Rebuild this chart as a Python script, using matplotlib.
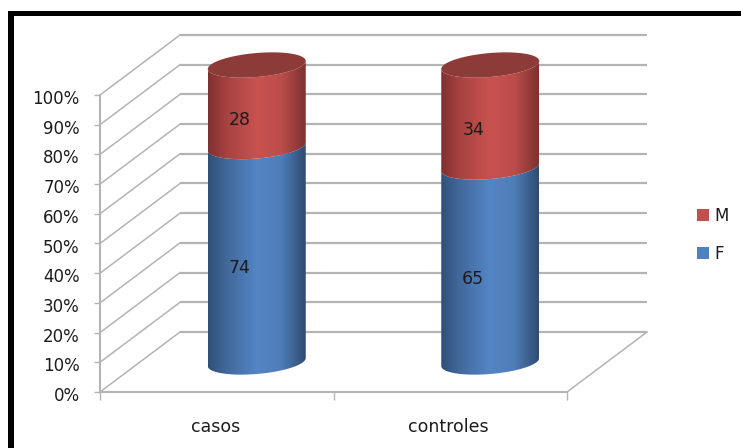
import numpy as np
import matplotlib
matplotlib.use("Agg")
import matplotlib.pyplot as plt
from matplotlib.colors import LinearSegmentedColormap
from matplotlib.patches import Patch, Polygon, Rectangle
from matplotlib.transforms import ScaledTranslation

categories = ["casos", "controles"]
series_f = [74, 65]
series_m = [28, 34]
y_ticks = [0, 10, 20, 30, 40, 50, 60, 70, 80, 90, 100]
y_tick_labels = ["0%", "10%", "20%", "30%", "40%", "50%", "60%", "70%", "80%", "90%", "100%"]

W, H = 741, 448
FONT = "DejaVu Sans"
FS = 12
TXT = "#1c1c1c"
GRID = "#b4b4b4"

fig = plt.figure(figsize=(W / 100, H / 100), dpi=100, facecolor="white")
# frame
fig.add_artist(Rectangle((8 / W, 1 - 16 / H), 1, 5 / H, transform=fig.transFigure, color="black", lw=0))
fig.add_artist(Rectangle((8 / W, 0), 6 / W, 1 - 11 / H, transform=fig.transFigure, color="black", lw=0))

L, R, T, B = 100, 567, 95, 392
ax = fig.add_axes([L / W, 1 - B / H, (R - L) / W, (B - T) / H])
ax.patch.set_visible(False)
ux = (R - L) / 2      # px per x unit
uy = (B - T) / 100    # px per percent
DX, DY = 80 / ux, 60 / uy  # depth offset


def px(dx, dy):
    return dx / ux, -dy / uy


# walls
for t in y_ticks:
    ax.plot([DX, 2 + DX], [t + DY, t + DY], color=GRID, lw=1.6, clip_on=False, zorder=1, solid_capstyle="butt")
    ax.plot([0, DX], [t, t + DY], color=GRID, lw=1.1, clip_on=False, zorder=1)
ax.plot([2, 2 + DX], [0, DY], color=GRID, lw=1.1, clip_on=False, zorder=1)

# axes
ax.set_xlim(0, 2)
ax.set_ylim(0, 100)
for s in ("top", "right"):
    ax.spines[s].set_visible(False)
for s in ("left", "bottom"):
    ax.spines[s].set_color(GRID)
    ax.spines[s].set_linewidth(1.5)
ax.set_yticks(y_ticks)
ax.set_yticklabels(y_tick_labels, fontsize=FS, family=FONT, color=TXT)
ax.set_xticks([0, 1, 2])
ax.set_xticklabels([])
ax.set_xticks([0.5, 1.5], minor=True)
ax.set_xticklabels(categories, minor=True, fontsize=FS + 0.5, family=FONT, color=TXT)
ax.tick_params(axis="y", length=4.5, width=1, color=GRID, pad=10)
ax.tick_params(axis="x", which="major", length=6, width=1, color=GRID)
ax.tick_params(axis="x", which="minor", length=0, pad=19)
shift_y = ScaledTranslation(0, -2 / 100, fig.dpi_scale_trans)
for lab in ax.get_yticklabels():
    lab.set_transform(lab.get_transform() + shift_y)
shift_x = ScaledTranslation(-1.5 / 100, 0, fig.dpi_scale_trans)
for lab in ax.get_xticklabels(minor=True):
    lab.set_transform(lab.get_transform() + shift_x)

# cylinders
RX = 49 / ux
BY = 12 / uy
SHEAR = 4 / uy
cm_f = LinearSegmentedColormap.from_list("f", [(0, "#2f5078"), (0.18, "#41689a"), (0.5, "#5485c5"),
                                               (0.75, "#4f7db8"), (1, "#2e4c72")])
cm_m = LinearSegmentedColormap.from_list("m", [(0, "#7f3130"), (0.18, "#a54240"), (0.5, "#c9524f"),
                                               (0.75, "#bb4d4a"), (1, "#7d3231")])
TOP_COLOR = "#8c3b39"


def arc(cx, cy, a, b):
    t = np.linspace(a, b, 80)
    return np.column_stack([cx + RX * np.cos(t), cy - BY * np.sin(t) + SHEAR * np.cos(t)])


def body(cx, y0, y1, cmap):
    low = arc(cx, y0, np.pi, 0)
    up = arc(cx, y1, 0, np.pi)
    poly = Polygon(np.vstack([low, up]), closed=True, transform=ax.transData, fc="none", ec="none")
    ax.add_patch(poly)
    im = ax.imshow(np.linspace(0, 1, 128)[None, :], cmap=cmap, aspect="auto", vmin=0, vmax=1,
                   extent=[cx - RX, cx + RX, -30, 130], zorder=3, interpolation="bilinear")
    im.set_clip_box(fig.bbox)
    im.set_clip_path(poly)


base = DY / 2
for i, cat in enumerate(categories):
    total = series_f[i] + series_m[i]
    pf = series_f[i] / total * 100
    cx = i + 0.5 + DX / 2
    body(cx, base, base + pf, cm_f)
    body(cx, base + pf, base + 100, cm_m)
    top = np.vstack([arc(cx, base + 100, 0, 2 * np.pi)])
    ax.add_patch(Polygon(top, closed=True, fc=TOP_COLOR, ec="none", zorder=4, clip_on=False))
    ox, oy = px(-17, 14)
    ax.text(cx + ox, base + pf / 2 + oy, str(series_f[i]), ha="center", va="center",
            fontsize=FS + 0.5, family=FONT, color=TXT, zorder=5)
    ax.text(cx + ox, base + pf + (100 - pf) / 2 + oy, str(series_m[i]), ha="center", va="center",
            fontsize=FS + 0.5, family=FONT, color=TXT, zorder=5)

ax.set_xlim(0, 2)
ax.set_ylim(0, 100)

handles = [Patch(fc="#c0504d", ec="none", label="M"), Patch(fc="#4f81bd", ec="none", label="F")]
fig.legend(handles=handles, loc="center left", bbox_to_anchor=(697 / W, 1 - 235 / H), frameon=False,
           prop={"family": FONT, "size": FS}, labelcolor=TXT, handlelength=0.72, handleheight=0.72,
           handletextpad=0.3, labelspacing=1.2, borderpad=0, borderaxespad=0)

fig.savefig("out.png", dpi=100, facecolor="white")
